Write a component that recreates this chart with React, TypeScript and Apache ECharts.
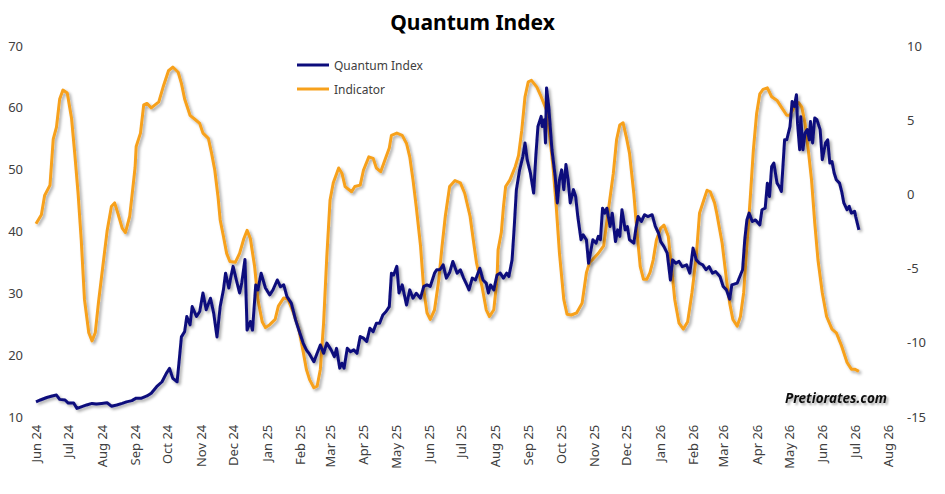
import React, { useEffect, useRef } from "react";
import * as echarts from "echarts";

// Day offsets are counted from 1 Jun 2024.
const MONTHS = ["Jan", "Feb", "Mar", "Apr", "May", "Jun", "Jul", "Aug", "Sep", "Oct", "Nov", "Dec"];
const TITLE = "Quantum Index";
const SERIES_NAMES = ["Quantum Index", "Indicator"];
const WATERMARK = "Pretiorates.com";

const leftAxisTicks = { min: 10, max: 70, interval: 10 };
const rightAxisTicks = { min: -15, max: 10, interval: 5 };

// [day offset, value] — Quantum Index (left axis)
const quantumIndex: [number, number][] = [
  [0, 12.4], [4, 12.7], [10, 13.1], [15, 13.35], [19, 13.5], [22, 12.8], [27, 12.7], [30, 12.2], [35, 12.2],
  [38, 11.35], [42, 11.6], [47, 11.9], [52, 12.15], [56, 12.05], [61, 12.15], [66, 12.25], [70, 11.7], [75, 11.9],
  [80, 12.15], [84, 12.4], [89, 12.6], [93, 13.0], [98, 13.0], [103, 13.35], [107, 13.8], [112, 14.85], [117, 15.65],
  [121, 17.0], [124, 17.8], [127, 16.2], [131, 15.65], [133, 19.2], [135, 22.9], [138, 23.75], [140, 26.2],
  [143, 24.85], [145, 27.8], [149, 26.2], [152, 27.0], [155, 30.0], [158, 27.3], [162, 29.15], [165, 26.7],
  [168, 22.9], [171, 27.8], [174, 30.5], [176, 33.2], [179, 30.8], [181, 32.65], [183, 34.3], [186, 32.1],
  [189, 30.0], [191, 31.6], [194, 35.4], [196, 24.0], [199, 25.4], [201, 24.0], [204, 31.3], [206, 30.5],
  [209, 33.2], [213, 30.8], [217, 29.7], [220, 30.5], [224, 32.1], [227, 31.0], [230, 31.3], [233, 29.4],
  [237, 28.35], [241, 25.65], [245, 23.5], [248, 21.9], [251, 20.8], [254, 20.1], [258, 18.9], [261, 20.25],
  [264, 21.6], [267, 20.25], [270, 21.9], [274, 20.8], [277, 19.7], [279, 21.05], [282, 17.85], [284, 18.65],
  [286, 17.85], [289, 21.05], [292, 20.5], [295, 20.8], [298, 20.25], [301, 22.95], [304, 22.7], [307, 22.15],
  [310, 24.3], [313, 23.75], [316, 25.1], [319, 25.1], [322, 26.45], [325, 27.0], [328, 27.8], [330, 33.2],
  [332, 32.9], [335, 34.3], [337, 30.0], [340, 31.3], [344, 28.05], [347, 30.5], [350, 29.15], [353, 29.95],
  [357, 29.15], [360, 31.05], [363, 31.3], [366, 31.05], [370, 33.2], [372, 33.75], [375, 33.75], [378, 34.55],
  [381, 32.4], [384, 33.3], [387, 35.1], [391, 33.2], [394, 33.75], [397, 32.4], [400, 31.3], [402, 30.5],
  [405, 32.4], [408, 32.1], [412, 34.0], [415, 32.1], [418, 31.6], [420, 30.0], [422, 31.3], [425, 30.5],
  [428, 32.9], [431, 33.2], [434, 32.4], [437, 33.2], [439, 32.65], [442, 35.35], [444, 40.7], [446, 46.7],
  [449, 49.9], [452, 52.05], [454, 54.25], [456, 51.55], [459, 49.4], [462, 46.15], [464, 52.05], [466, 56.9],
  [469, 58.55], [470, 56.9], [472, 58.0], [473, 54.25], [474, 63.15], [476, 60.15], [479, 53.15], [482, 48.85],
  [484, 44.55], [486, 48.3], [488, 49.9], [490, 46.7], [492, 50.75], [494, 48.3], [496, 44.55], [499, 46.7],
  [501, 45.6], [503, 42.35], [506, 38.6], [508, 39.4], [511, 38.6], [513, 34.8], [517, 38.6], [520, 38.05],
  [522, 39.15], [524, 38.6], [526, 43.7], [528, 42.9], [530, 43.7], [533, 40.75], [535, 42.9], [538, 38.3],
  [540, 40.2], [542, 39.15], [544, 43.45], [547, 40.2], [549, 40.75], [551, 38.6], [555, 38.05], [557, 40.5],
  [559, 42.35], [562, 41.55], [565, 42.65], [568, 42.35], [572, 42.65], [575, 40.75], [578, 39.65], [580, 38.3],
  [583, 37.5], [586, 36.45], [589, 32.1], [591, 35.35], [594, 34.8], [597, 35.1], [600, 34.25], [604, 34.55],
  [607, 33.2], [610, 37.25], [613, 35.35], [616, 34.8], [619, 34.55], [622, 33.75], [625, 34.25], [628, 33.2],
  [631, 33.45], [635, 32.65], [638, 31.05], [641, 30.5], [644, 29.0], [646, 31.3], [651, 31.6], [654, 32.9],
  [656, 33.75], [658, 38.6], [660, 41.8], [662, 42.9], [665, 41.55], [668, 41.8], [672, 41.0], [674, 43.45],
  [677, 43.7], [679, 47.75], [681, 45.6], [683, 50.45], [685, 51.0], [688, 47.75], [690, 47.2], [692, 46.4],
  [695, 54.75], [697, 54.75], [700, 56.9], [702, 60.95], [704, 60.15], [706, 62.05], [707, 57.45], [709, 53.15],
  [710, 58.5], [712, 53.15], [714, 55.85], [716, 56.4], [718, 54.75], [719, 57.7], [721, 54.25], [723, 58.3],
  [725, 58.0], [728, 56.4], [730, 51.55], [733, 54.25], [735, 54.75], [737, 51.0], [739, 51.25], [741, 49.4],
  [743, 48.3], [746, 47.75], [748, 46.4], [750, 44.55], [753, 43.45], [755, 44.0], [757, 42.9], [760, 43.2],
  [761, 42.35], [764, 40.2],
];

// [day offset, value] — Indicator (right axis)
const indicator: [number, number][] = [
  [0, -2.0], [5, -1.4], [8, -0.1], [13, 0.6], [16, 3.7], [19, 4.5], [22, 6.4], [25, 7.0], [29, 6.8], [33, 5.1],
  [36, 2.7], [39, 0.1], [42, -3.1], [45, -7.1], [49, -9.35], [52, -9.9], [55, -9.35], [58, -7.3], [62, -4.9],
  [66, -2.5], [70, -0.85], [73, -0.6], [76, -1.3], [80, -2.3], [83, -2.6], [87, -1.5], [89, -0.2], [92, 1.8],
  [93, 3.2], [97, 4.1], [100, 6.0], [103, 6.1], [107, 5.8], [114, 6.2], [118, 7.2], [123, 8.3], [127, 8.55],
  [132, 8.2], [135, 7.45], [138, 6.4], [143, 5.3], [148, 5.0], [152, 4.75], [155, 4.1], [160, 3.75], [163, 2.75],
  [166, 1.6], [169, -0.2], [171, -1.75], [174, -2.85], [177, -4.0], [180, -4.55], [185, -4.6], [189, -4.0],
  [193, -3.0], [196, -2.45], [199, -3.0], [203, -4.9], [206, -7.1], [210, -8.6], [213, -9.0], [217, -8.8],
  [222, -8.45], [225, -7.55], [230, -7.0], [234, -7.1], [239, -8.0], [244, -9.1], [248, -10.6], [251, -11.8],
  [254, -12.5], [258, -13.05], [261, -12.95], [264, -11.8], [267, -8.7], [270, -4.2], [273, -0.4], [276, 0.75],
  [281, 1.75], [284, 1.4], [287, 0.5], [293, 0.15], [296, 0.5], [301, 0.6], [304, 1.6], [309, 2.5], [313, 2.4],
  [316, 1.75], [320, 1.5], [324, 2.3], [328, 3.1], [330, 3.95], [335, 4.1], [340, 3.95], [344, 3.4], [347, 2.5],
  [350, 0.95], [353, -0.85], [357, -3.5], [360, -6.45], [363, -8.0], [366, -8.45], [370, -7.8], [374, -5.75],
  [377, -3.5], [380, -1.5], [384, 0.5], [389, 0.9], [394, 0.75], [398, 0.05], [403, -1.5], [406, -3.1],
  [409, -4.65], [414, -6.2], [418, -7.8], [421, -8.25], [425, -7.8], [428, -5.75], [429, -3.75], [432, -2.6],
  [434, -0.85], [436, 0.5], [440, 0.95], [445, 1.85], [448, 2.6], [451, 4.3], [454, 6.55], [457, 7.55],
  [460, 7.65], [465, 7.2], [469, 6.55], [474, 5.65], [477, 3.85], [480, 1.85], [483, -0.85], [486, -4.0],
  [490, -7.1], [493, -8.1], [497, -8.15], [502, -8.0], [507, -7.35], [511, -5.3], [514, -4.6], [517, -4.4],
  [522, -4.0], [527, -3.5], [531, -1.3], [536, 1.4], [539, 3.65], [542, 4.65], [545, 4.8], [548, 3.85],
  [551, 2.75], [555, 0.05], [558, -2.6], [561, -4.9], [564, -5.75], [567, -5.75], [570, -5.3], [573, -4.45],
  [576, -3.1], [580, -2.3], [583, -2.1], [587, -2.85], [590, -4.9], [593, -7.1], [597, -8.7], [601, -9.1],
  [605, -8.6], [609, -6.65], [613, -4.2], [616, -1.3], [620, -0.4], [623, 0.25], [626, 0.15], [630, -0.6],
  [632, -1.3], [637, -3.3], [641, -5.75], [644, -7.35], [647, -8.45], [651, -8.9], [654, -8.25], [657, -6.65],
  [660, -3.5], [663, -0.4], [666, 2.95], [669, 5.4], [672, 6.75], [675, 7.05], [679, 7.15], [683, 6.55],
  [688, 6.3], [692, 5.85], [697, 5.3], [700, 5.3], [705, 6.0], [708, 6.15], [711, 5.85], [714, 4.75], [717, 2.95],
  [720, 0.95], [723, -1.95], [726, -4.45], [730, -6.65], [734, -8.25], [739, -9.1], [743, -9.35], [748, -10.25],
  [753, -11.35], [757, -11.8], [760, -11.8], [764, -11.95],
];

const dayToTime = (d: number) => new Date(2024, 5, 1 + d).getTime();
const AXIS_MIN = new Date(2024, 5, 1).getTime();
const AXIS_MAX = new Date(2026, 7, 1).getTime();
const DAY = 86400000;

const FONT = "Noto Sans";
const LABEL_COLOR = "#404040";
const BLUE = "#0C0C7C";
const ORANGE = "#F7A11C";

export default function App() {
  const ref = useRef<HTMLDivElement>(null);
  useEffect(() => {
    if (!ref.current) return;
    const chart = echarts.init(ref.current, null, { renderer: "svg" });
    const shadow = {
      shadowColor: "rgba(0,0,0,0.35)",
      shadowBlur: 3,
      shadowOffsetX: 2,
      shadowOffsetY: 2,
    };
    chart.setOption({
      animation: false,
      backgroundColor: "#ffffff",
      title: {
        text: TITLE,
        left: "center",
        top: 6,
        textStyle: { fontFamily: FONT, fontSize: 21, fontWeight: "bold", color: "#000000" },
      },
      legend: {
        data: SERIES_NAMES,
        orient: "vertical",
        left: 292,
        top: 54,
        itemWidth: 32,
        itemHeight: 3,
        itemGap: 12,
        icon: "rect",
        textStyle: { fontFamily: FONT, fontSize: 12, color: LABEL_COLOR },
      },
      grid: { left: 36, right: 57, top: 45.5, bottom: 77.3, containLabel: false },
      xAxis: {
        type: "time",
        min: AXIS_MIN,
        max: AXIS_MAX,
        splitNumber: 26,
        minInterval: 28 * DAY,
        maxInterval: 31 * DAY,
        axisLine: { show: false },
        axisTick: { show: false },
        splitLine: { show: false },
        axisLabel: {
          rotate: 90,
          margin: 8,
          color: LABEL_COLOR,
          fontFamily: FONT,
          fontSize: 13,
          showMinLabel: true,
          showMaxLabel: true,
          formatter: (val: number) => {
            const d = new Date(val);
            return `${MONTHS[d.getMonth()]} ${String(d.getFullYear()).slice(2)}`;
          },
        },
      },
      yAxis: [
        {
          type: "value",
          position: "left",
          ...leftAxisTicks,
          axisLine: { show: false },
          axisTick: { show: false },
          splitLine: { show: false },
          axisLabel: { margin: 13, color: LABEL_COLOR, fontFamily: FONT, fontSize: 13 },
        },
        {
          type: "value",
          position: "right",
          ...rightAxisTicks,
          axisLine: { show: false },
          axisTick: { show: false },
          splitLine: { show: false },
          axisLabel: { margin: 19, color: LABEL_COLOR, fontFamily: FONT, fontSize: 13 },
        },
      ],
      series: [
        {
          name: SERIES_NAMES[0],
          type: "line",
          yAxisIndex: 0,
          z: 3,
          showSymbol: false,
          itemStyle: { color: BLUE },
          lineStyle: { color: BLUE, width: 3, join: "round", ...shadow },
          data: quantumIndex.map(([d, v]) => [dayToTime(d), v]),
        },
        {
          name: SERIES_NAMES[1],
          type: "line",
          yAxisIndex: 1,
          z: 2,
          showSymbol: false,
          itemStyle: { color: ORANGE },
          lineStyle: { color: ORANGE, width: 3, join: "round", ...shadow },
          data: indicator.map(([d, v]) => [dayToTime(d), v]),
        },
      ],
      graphic: [
        {
          type: "text",
          right: 58,
          top: 391,
          style: {
            text: WATERMARK,
            font: `italic bold 13.5px "${FONT}"`,
            fill: "#111111",
            textShadowColor: "rgba(0,0,0,0.35)",
            textShadowBlur: 2,
            textShadowOffsetX: 2,
            textShadowOffsetY: 2,
          },
        },
      ],
    });
    return () => chart.dispose();
  }, []);
  return (
    <div
      ref={ref}
      style={{ position: "fixed", left: 0, top: 0, width: 945, height: 494, background: "#fff" }}
    />
  );
}
